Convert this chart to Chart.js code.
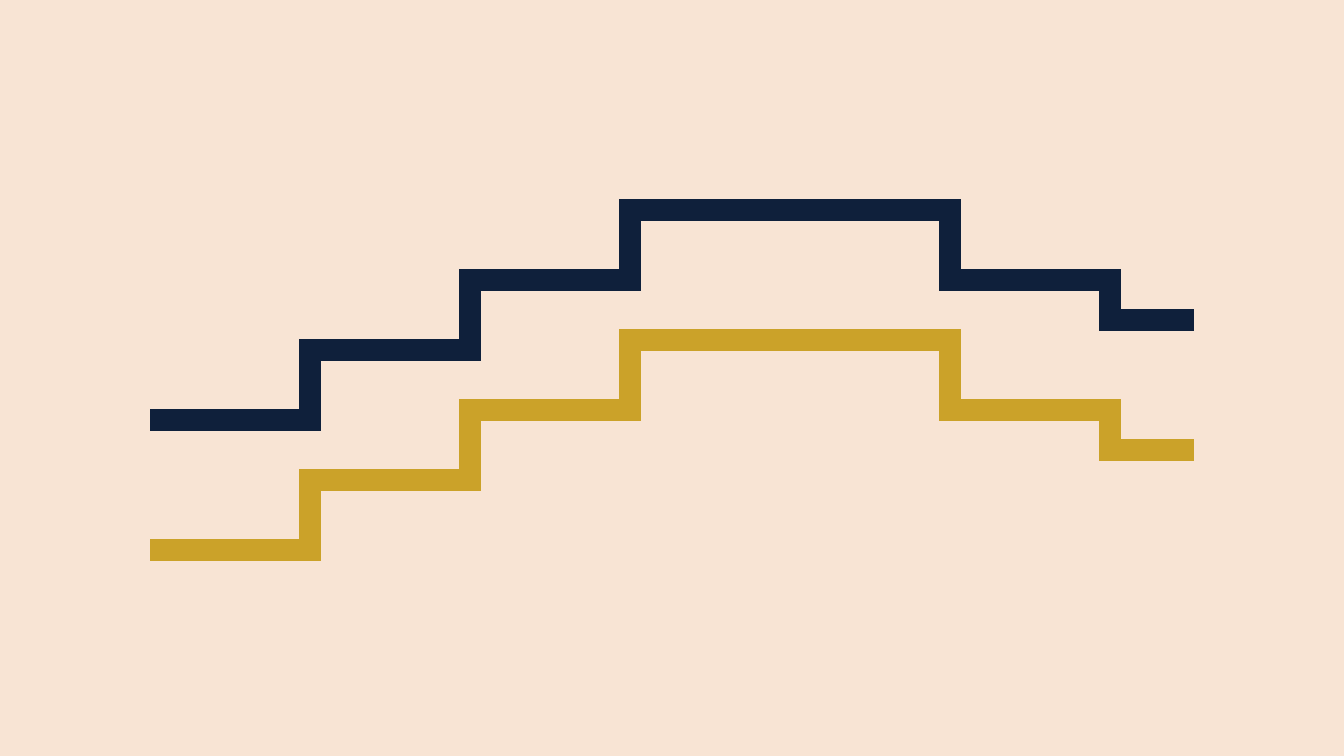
<!DOCTYPE html>
<html>
<head>
<meta charset="utf-8">
<script src="https://cdn.jsdelivr.net/npm/chart.js@4"></script>
<style>
html,body{margin:0;padding:0;background:#F8E4D4;}
#wrap{width:1344px;height:756px;}
</style>
</head>
<body>
<div id="wrap"><canvas id="c" width="1344" height="756"></canvas></div>
<script>
const xValues = [0, 1, 2, 3, 4, 5, 6, 6.525];
const navySeries = [42, 49, 56, 63, 63, 56, 52, 52];
const goldSeries = [29, 36, 43, 50, 50, 43, 39, 39];

const toPoints = arr => arr.map((v, i) => ({x: xValues[i], y: v}));

new Chart(document.getElementById('c'), {
  type: 'line',
  data: {
    datasets: [
      {data: toPoints(navySeries), borderColor: '#0F203B', borderWidth: 22, stepped: true, pointRadius: 0, fill: false, borderJoinStyle: 'miter', borderCapStyle: 'butt'},
      {data: toPoints(goldSeries), borderColor: '#CBA229', borderWidth: 22, stepped: true, pointRadius: 0, fill: false, borderJoinStyle: 'miter', borderCapStyle: 'butt'}
    ]
  },
  options: {
    responsive: false,
    animation: false,
    layout: {padding: {left: 150, right: 150, top: 0, bottom: 0}},
    plugins: {legend: {display: false}, tooltip: {enabled: false}},
    scales: {
      x: {type: 'linear', min: 0, max: 6.525, display: false},
      y: {type: 'linear', min: 8.4, max: 84, display: false}
    }
  }
});
</script>
</body>
</html>
